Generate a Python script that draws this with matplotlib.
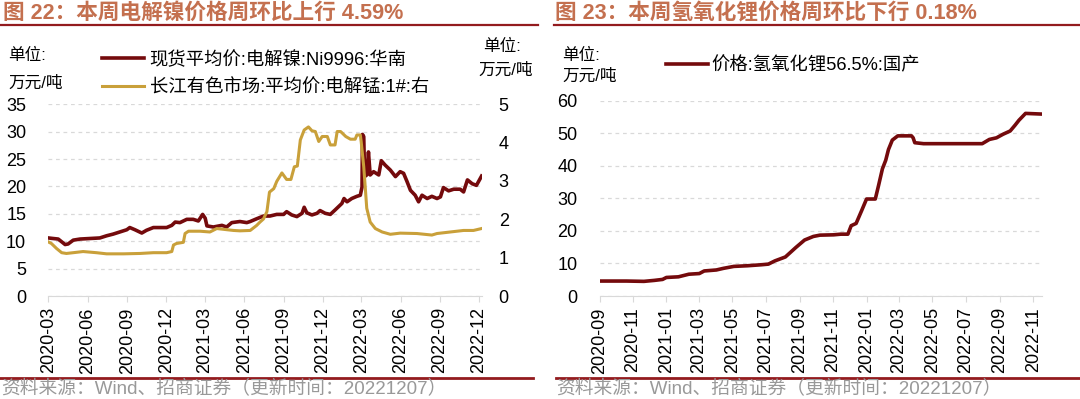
import pandas as pd
import matplotlib
matplotlib.use("Agg")
import matplotlib.pyplot as plt
import matplotlib.dates as mdates
from matplotlib.lines import Line2D

plt.rcParams["font.family"] = ["Liberation Sans", "Noto Sans CJK SC"]

# 电解镍 现货均价 华南 (万元/吨, left axis)
ni_dates = ["2020-03-01", "2020-03-12", "2020-03-24", "2020-04-01", "2020-04-09", "2020-04-16",
            "2020-04-28", "2020-05-14", "2020-06-06", "2020-06-29", "2020-07-15", "2020-07-30",
            "2020-08-15", "2020-08-31", "2020-09-07", "2020-09-19", "2020-10-05", "2020-10-16",
            "2020-11-01", "2020-11-16", "2020-12-02", "2020-12-14", "2020-12-22", "2021-01-02",
            "2021-01-18", "2021-02-02", "2021-02-14", "2021-02-24", "2021-03-02", "2021-03-06",
            "2021-03-21", "2021-04-10", "2021-04-21", "2021-05-03", "2021-05-22", "2021-06-07",
            "2021-06-15", "2021-06-30", "2021-07-16", "2021-07-31", "2021-08-16", "2021-09-01",
            "2021-09-08", "2021-09-20", "2021-10-02", "2021-10-14", "2021-10-19", "2021-10-25",
            "2021-11-06", "2021-11-18", "2021-11-25", "2021-12-07", "2021-12-19", "2021-12-30",
            "2022-01-07", "2022-01-15", "2022-01-20", "2022-01-27", "2022-02-07", "2022-02-19",
            "2022-02-27", "2022-03-03", "2022-03-04", "2022-03-07", "2022-03-09", "2022-03-14",
            "2022-03-18", "2022-03-22", "2022-03-30", "2022-04-11", "2022-04-17", "2022-04-26",
            "2022-05-08", "2022-05-20", "2022-05-31", "2022-06-08", "2022-06-16", "2022-06-24",
            "2022-07-05", "2022-07-13", "2022-07-21", "2022-08-02", "2022-08-13", "2022-08-25",
            "2022-09-02", "2022-09-09", "2022-09-21", "2022-10-03", "2022-10-18", "2022-10-26",
            "2022-11-04", "2022-11-15", "2022-11-25", "2022-12-07"]
ni_vals = [10.6, 10.5, 10.4, 9.9, 9.4, 9.5,
           10.2, 10.4, 10.5, 10.6, 11.0, 11.3,
           11.7, 12.1, 12.5, 12.1, 11.5, 12.0,
           12.5, 12.5, 12.5, 12.9, 13.5, 13.4,
           14.0, 14.0, 13.7, 14.9, 14.2, 12.8,
           12.6, 12.9, 12.6, 13.4, 13.6, 13.4,
           13.6, 14.1, 14.6, 14.6, 14.9, 14.9,
           15.4, 14.8, 14.5, 15.1, 16.2, 15.2,
           14.8, 15.1, 15.6, 15.1, 14.9, 15.7,
           16.3, 16.9, 17.8, 17.2, 17.8, 18.2,
           18.4, 19.9, 29.5, 29.1, 21.8, 22.1,
           26.3, 22.1, 22.7, 22.1, 24.7, 23.9,
           23.0, 21.8, 22.7, 22.4, 20.9, 19.3,
           18.4, 17.2, 18.4, 17.8, 18.2, 17.8,
           18.1, 19.8, 19.2, 19.5, 19.5, 19.0,
           21.2, 20.5, 20.2, 21.9]

# 长江有色 电解锰1# 平均价 (万元/吨, right axis)
mn_dates = ["2020-03-01", "2020-03-08", "2020-03-20", "2020-04-01", "2020-04-12", "2020-04-28",
            "2020-05-21", "2020-06-21", "2020-07-15", "2020-08-23", "2020-10-01", "2020-11-01",
            "2020-12-02", "2020-12-14", "2020-12-18", "2020-12-25", "2021-01-10", "2021-01-14",
            "2021-01-22", "2021-02-18", "2021-03-13", "2021-03-29", "2021-04-21", "2021-05-07",
            "2021-05-22", "2021-06-15", "2021-06-30", "2021-07-08", "2021-07-16", "2021-07-24",
            "2021-07-30", "2021-08-09", "2021-08-16", "2021-08-28", "2021-09-08", "2021-09-18",
            "2021-09-26", "2021-10-03", "2021-10-10", "2021-10-19", "2021-10-29", "2021-11-06",
            "2021-11-14", "2021-11-22", "2021-11-30", "2021-12-12", "2021-12-19", "2021-12-30",
            "2022-01-04", "2022-01-12", "2022-01-24", "2022-02-04", "2022-02-15", "2022-02-19",
            "2022-02-27", "2022-03-01", "2022-03-07", "2022-03-11", "2022-03-14", "2022-03-22",
            "2022-04-03", "2022-04-19", "2022-05-08", "2022-05-31", "2022-07-09", "2022-08-13",
            "2022-08-25", "2022-09-25", "2022-10-26", "2022-11-18", "2022-12-07"]
mn_vals = [1.41, 1.37, 1.24, 1.13, 1.11, 1.13,
           1.16, 1.13, 1.10, 1.10, 1.11, 1.13,
           1.13, 1.16, 1.33, 1.37, 1.40, 1.63,
           1.69, 1.69, 1.67, 1.76, 1.73, 1.71,
           1.70, 1.71, 1.84, 1.93, 2.01, 2.20,
           2.71, 2.80, 2.99, 3.21, 3.04, 3.04,
           3.37, 3.39, 4.07, 4.33, 4.41, 4.31,
           4.29, 4.03, 4.16, 4.16, 3.94, 3.94,
           4.29, 4.29, 4.16, 4.09, 4.09, 4.20,
           4.20, 4.03, 3.37, 2.76, 2.29, 1.93,
           1.76, 1.67, 1.61, 1.64, 1.63, 1.59,
           1.63, 1.67, 1.71, 1.71, 1.76]

# 氢氧化锂56.5% 国产 (万元/吨)
li_dates = ["2020-09-01", "2020-10-20", "2020-11-21", "2020-12-10", "2020-12-25", "2021-01-01",
            "2021-01-23", "2021-02-11", "2021-03-02", "2021-03-11", "2021-04-02", "2021-04-15",
            "2021-05-04", "2021-05-29", "2021-06-23", "2021-07-06", "2021-07-18", "2021-08-06",
            "2021-08-25", "2021-09-10", "2021-09-26", "2021-10-08", "2021-11-02", "2021-11-15",
            "2021-11-28", "2021-12-04", "2021-12-13", "2021-12-23", "2022-01-01", "2022-01-17",
            "2022-01-23", "2022-01-30", "2022-02-05", "2022-02-10", "2022-02-17", "2022-02-27",
            "2022-03-24", "2022-03-27", "2022-03-30", "2022-04-15", "2022-07-31", "2022-08-13",
            "2022-08-26", "2022-09-07", "2022-09-20", "2022-09-29", "2022-10-06", "2022-10-18",
            "2022-11-16"]
li_vals = [4.6, 4.6, 4.5, 4.8, 5.1, 5.7,
           5.9, 6.7, 6.9, 7.7, 8.0, 8.5,
           9.1, 9.3, 9.6, 9.8, 10.8, 12.0,
           14.9, 17.2, 18.3, 18.7, 18.8, 19.0,
           19.0, 21.6, 22.3, 26.2, 29.8, 29.8,
           34.0, 39.1, 41.7, 45.0, 47.9, 49.2,
           49.2, 48.6, 47.1, 46.8, 46.8, 48.1,
           48.6, 49.7, 50.7, 52.5, 54.0, 56.1,
           55.9]

left_ticks = pd.date_range("2020-03-01", "2022-12-01", freq="3MS")
right_ticks = pd.date_range("2020-09-01", "2022-11-01", freq="2MS")

RED = "#740A0C"
GOLD = "#C9A03A"
TITLE = "#C4704F"
RULE = "#931B1E"
GRID = "#d9d9d9"


def style(ax, ylim, yticks, xticks, xlim):
    ax.set_ylim(*ylim)
    ax.set_yticks(yticks)
    ax.set_xlim(pd.Timestamp(xlim[0]), pd.Timestamp(xlim[1]))
    ax.set_xticks(xticks)
    ax.xaxis.set_major_formatter(mdates.DateFormatter("%Y-%m"))
    ax.grid(axis="y", color=GRID, ls=(0, (3, 3)), lw=0.9)
    ax.set_axisbelow(True)
    for s in ["top", "right", "left"]:
        ax.spines[s].set_visible(False)
    ax.spines["bottom"].set_color(GRID)
    ax.tick_params(axis="y", length=0, pad=16, labelsize=13)
    ax.tick_params(axis="x", length=4, color=GRID, labelsize=13, rotation=90, pad=4)


fig = plt.figure(figsize=(10.8, 3.99), dpi=100)

ax1 = fig.add_axes([0.0448, 0.2581, 0.4015, 0.4805])
ax1r = ax1.twinx()
ax2 = fig.add_axes([0.5551, 0.2581, 0.4097, 0.4895])

l_ni, = ax1.plot(pd.to_datetime(ni_dates), ni_vals, color=RED, lw=2.6)
l_mn, = ax1r.plot(pd.to_datetime(mn_dates), mn_vals, color=GOLD, lw=2.2)
style(ax1, (0, 35), range(0, 36, 5), left_ticks, ("2020-03-01", "2022-12-08"))
ax1r.set_ylim(0, 5)
ax1r.set_yticks(range(0, 6))
for s in ax1r.spines.values():
    s.set_visible(False)
ax1r.tick_params(axis="y", length=0, pad=12, labelsize=13)

l_li, = ax2.plot(pd.to_datetime(li_dates), li_vals, color=RED, lw=2.6)
style(ax2, (0, 60), range(0, 61, 10), right_ticks, ("2020-09-01", "2022-11-17"))

# legends
fig.legend([l_ni, l_mn], ["现货平均价:电解镍:Ni9996:华南", "长江有色市场:平均价:电解锰:1#:右"],
           loc="upper left", bbox_to_anchor=(0.0944, 0.872), frameon=False, fontsize=13.2,
           handlelength=2.3, handletextpad=0.3, labelspacing=0.58, borderpad=0, borderaxespad=0)
fig.legend([l_li], ["价格:氢氧化锂56.5%:国产"],
           loc="upper left", bbox_to_anchor=(666 / 1080, 0.857), frameon=False, fontsize=13.2,
           handlelength=2.3, handletextpad=0.2, borderpad=0, borderaxespad=0)

# unit labels
fig.text(8 / 1080, 1 - 55 / 399, "单位:", fontsize=12, va="center")
fig.text(8 / 1080, 1 - 83 / 399, "万元/吨", fontsize=12, va="center")
fig.text(502 / 1080, 1 - 46 / 399, "单位:", fontsize=12, va="center", ha="center")
fig.text(506 / 1080, 1 - 70 / 399, "万元/吨", fontsize=12, va="center", ha="center")
fig.text(562 / 1080, 1 - 55 / 399, "单位:", fontsize=12, va="center")
fig.text(562 / 1080, 1 - 76 / 399, "万元/吨", fontsize=12, va="center")

# titles with rules
fig.text(0.003, 1 - 13 / 399, "图 22：本周电解镍价格周环比上行 4.59%", fontsize=15.6,
         fontweight="bold", color=TITLE, va="center")
fig.text(555 / 1080, 1 - 13 / 399, "图 23：本周氢氧化锂价格周环比下行 0.18%", fontsize=15.6,
         fontweight="bold", color=TITLE, va="center")
fig.add_artist(Line2D([0, 538 / 1080], [1 - 25 / 399] * 2, color=RULE, lw=1.6))
fig.add_artist(Line2D([554 / 1080, 1], [1 - 25 / 399] * 2, color=RULE, lw=1.6))

# footers
fig.add_artist(Line2D([0, 533 / 1080], [1 - 377.5 / 399] * 2, color=RULE, lw=2))
fig.add_artist(Line2D([556 / 1080, 1], [1 - 377.5 / 399] * 2, color=RULE, lw=2))
src = "资料来源：Wind、招商证券（更新时间：20221207）"
fig.text(0.001, 1 - 389 / 399, src, fontsize=13.5, color="#999999", va="center")
fig.text(556 / 1080, 1 - 389 / 399, src, fontsize=13.5, color="#999999", va="center")

fig.savefig("out.png", dpi=100)
